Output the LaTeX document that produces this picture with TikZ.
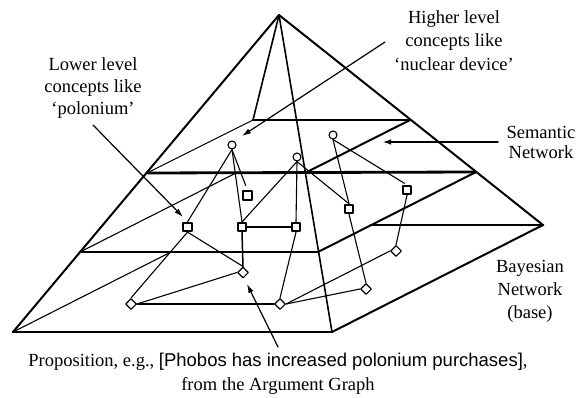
\documentclass[tikz,border=0pt]{standalone}
\usepackage{fontspec}
\setmainfont{Liberation Serif}
\newfontfamily\arialfont{Liberation Sans}
\usetikzlibrary{shapes.geometric,arrows.meta}
\begin{document}
\begin{tikzpicture}[x=1pt,y=-1pt,line cap=round,line join=round,
  heavy/.style={line width=2.8pt},
  edge/.style={line width=2pt},
  medium/.style={line width=1.6pt},
  fine/.style={line width=1.1pt},
  link/.style={line width=1.1pt},
  concept/.style={circle,draw,line width=1.1pt,minimum size=8pt,inner sep=0pt},
  lowconcept/.style={rectangle,draw,line width=1.7pt,minimum size=8.5pt,inner sep=0pt},
  prop/.style={diamond,draw,line width=1.1pt,minimum size=11pt,inner sep=0pt,aspect=1},
  lbl/.style={font=\fontsize{18.5}{22}\selectfont,align=center,inner sep=0pt},
  pointer/.style={line width=1.2pt,-{Latex[length=9pt,width=5.5pt]}}
]
\useasboundingbox (0,0) rectangle (585,398);
% pyramid corners
\coordinate (A) at (279,15);
\coordinate (FL) at (13,332);
\coordinate (FR) at (332,332);
\coordinate (BR) at (543,225);
\coordinate (P1) at (253,120);
\coordinate (P2) at (410,120);
\coordinate (P3) at (147,173);
\coordinate (P4) at (305,173);
\coordinate (Q1) at (238,172);
\coordinate (Q2) at (476,172);
\coordinate (Q3) at (80,252);
\coordinate (Q4) at (318,252);
\coordinate (BLv) at (171,252);
\coordinate (BBv) at (371,225);
% pyramid
\draw[edge] (FL) -- (A) -- (BR);
\draw[medium] (A) -- (FR);
\draw[medium] (A) -- (P1);
\draw[heavy] (P1) -- (P2);
\draw[fine] (P3) -- (P1);
\draw[edge] (P4) -- (P2);
\draw[heavy] (P3) -- (Q2);
\draw[fine] (Q3) -- (Q1);
\draw[heavy] (Q3) -- (Q4);
\draw[edge] (Q4) -- (Q2);
\draw[heavy] (FL) -- (FR);
\draw[edge] (FR) -- (BR);
\draw[heavy] (BBv) -- (BR);
\draw[fine] (FL) -- (BLv);
% nodes
\node[concept] (c1) at (232,145) {};
\node[concept] (c2) at (297,157) {};
\node[concept] (c3) at (333,135) {};
\node[lowconcept,line width=2pt] (s1) at (247.5,195.5) {};
\node[lowconcept,line width=2pt] (s2) at (349,209) {};
\node[lowconcept] (s3) at (407,190) {};
\node[lowconcept] (s4) at (187.5,227) {};
\node[lowconcept] (s5) at (242,227) {};
\node[lowconcept] (s6) at (296,227) {};
\node[prop] (d1) at (243,272.5) {};
\node[prop] (d2) at (131,304) {};
\node[prop] (d3) at (280,304) {};
\node[prop] (d4) at (366,289) {};
\node[prop] (d5) at (396,251) {};
% links
\draw[link] (c1.south) -- (s4.north);
\draw[link,shorten >=5pt] (c1.south) -- (s1.north);
\draw[link] (c1.south) -- (s5.north);
\draw[link] (c2.south) -- (s5.north);
\draw[link] (c2.south) -- (s6.north);
\draw[link] (c2.south) -- (s2.north);
\draw[link] (c3.south) -- (s2.north);
\draw[link,shorten >=3pt] (c3.south) -- (s3.north);
\draw[link,line width=1.5pt] (s5.east) -- (s6.west);
\draw[link,line width=1.5pt] (s5.south) -- (d1.north);
\draw[link] (s4.south) -- (d1.north);
\draw[link] (s4.south) -- (d2.north);
\draw[link] (s6.south) -- (d3.north);
\draw[link] (s2.south) -- (d4.north);
\draw[link] (s3.south) -- (d5.north);
\draw[link] (d2.east) -- (d1.west);
\draw[link,line width=1.5pt] (d2.east) -- (d3.west);
\draw[link] (d3.east) -- (d4.west);
\draw[link] (d3.east) -- (d5.west);
% labels (base anchor = baseline of the last line)
\node[lbl,anchor=base] (lower) at (93,115) {Lower level\\concepts like\\‘polonium’};
\node[lbl,anchor=base,font=\fontsize{18.5}{23.8}\selectfont] (higher) at (454,70.7) {Higher level\\concepts like\\‘nuclear device’};
\node[lbl,anchor=base,font=\fontsize{18.5}{20}\selectfont] (semantic) at (541,158.3) {Semantic\\Network};
\node[lbl,anchor=base,font=\fontsize{18.5}{23}\selectfont] (bayes) at (530,318.5) {Bayesian\\Network\\(base)};
\node[lbl,anchor=base,font=\fontsize{18.5}{23.5}\selectfont] (propl) at (278,390) {Proposition, e.g., {\arialfont [Phobos has increased polonium purchases]},\\from the Argument Graph};
% pointers
\coordinate (hs) at (385,42);
\coordinate (he) at (242,136);
\coordinate (ls) at (93,125);
\coordinate (le) at (183,217);
\coordinate (ss) at (498,142);
\coordinate (se) at (382,142);
\coordinate (ps) at (278,347);
\coordinate (pe) at (247,284);
\draw[pointer] (hs) -- (he);
\draw[pointer] (ls) -- (le);
\draw[pointer,line width=1.8pt] (ss) -- (se);
\draw[pointer] (ps) -- (pe);
\end{tikzpicture}
\end{document}
